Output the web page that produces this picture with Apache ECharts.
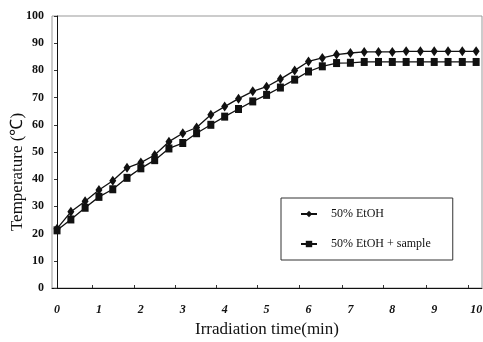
<!DOCTYPE html>
<html>
<head>
<meta charset="utf-8">
<script src="https://cdn.jsdelivr.net/npm/echarts@6/dist/echarts.min.js"></script>
<style>
  html, body { margin: 0; padding: 0; background: #fff; }
  #chart { width: 483px; height: 342px; }
</style>
</head>
<body>
<div id="chart"></div>
<script>
// irradiation time, one reading every 20 s
const timeMin = [
  0, 0.33, 0.67, 1, 1.33, 1.67, 2, 2.33, 2.67, 3, 3.33, 3.67, 4, 4.33, 4.67, 5,
  5.33, 5.67, 6, 6.33, 6.67, 7, 7.33, 7.67, 8, 8.33, 8.67, 9, 9.33, 9.67, 10,
];
const ethanol = [
  21.8, 28.0, 31.9, 36.0, 39.4, 44.2, 46.1, 48.9, 53.8, 56.9, 59.0, 63.7, 66.7, 69.6, 72.3, 74.0,
  76.8, 80.0, 83.3, 84.6, 85.8, 86.4, 86.8, 86.8, 86.8, 87.0, 87.0, 87.0, 87.0, 87.0, 87.0,
];
const ethanolSample = [
  21.2, 25.2, 29.5, 33.5, 36.3, 40.5, 44.0, 47.0, 51.3, 53.3, 56.9, 60.0, 63.0, 65.8, 68.6, 71.0,
  73.7, 76.6, 79.6, 81.5, 82.7, 82.8, 83.1, 83.1, 83.1, 83.1, 83.1, 83.1, 83.1, 83.1, 83.1,
];
const xLabels = [0, 1, 2, 3, 4, 5, 6, 7, 8, 9, 10];
const xTicks = [0.84, 1.84, 2.82, 3.79, 4.77, 5.78, 6.8, 7.78, 8.81, 9.81];
const seriesNames = ["50% EtOH", "50% EtOH + sample"];

const serif = "Liberation Serif";
const chart = echarts.init(document.getElementById("chart"), null, { renderer: "canvas" });

chart.setOption({
  animation: false,
  backgroundColor: "#fff",
  grid: {
    left: 52, right: 1, top: 16, bottom: 54,
    outerBoundsMode: "none",
    show: true, borderColor: "#999", borderWidth: 1,
  },
  legend: {
    left: 281,
    top: 198,
    orient: "vertical",
    data: seriesNames,
    borderColor: "#333",
    borderWidth: 1,
    borderRadius: 0,
    padding: [10, 22, 10, 19],
    itemGap: 18,
    itemWidth: 16,
    itemHeight: 8,
    textStyle: { fontFamily: serif, fontSize: 12, color: "#111", padding: [0, 0, 0, 9] },
  },
  xAxis: {
    type: "value",
    min: -0.12,
    max: 10.14,
    name: "Irradiation time(min)",
    nameLocation: "middle",
    nameGap: 31,
    nameTextStyle: { fontFamily: serif, fontSize: 17, color: "#111" },
    axisLine: { lineStyle: { color: "#111", width: 1 } },
    axisTick: { inside: true, length: 3, customValues: xTicks, lineStyle: { color: "#333" } },
    axisLabel: {
      customValues: xLabels,
      margin: 16,
      fontFamily: serif,
      fontSize: 12,
      fontWeight: "bold",
      fontStyle: "italic",
      color: "#111",
    },
    splitLine: { show: false },
  },
  yAxis: {
    type: "value",
    min: 0,
    max: 100,
    interval: 10,
    name: "Temperature (℃)",
    nameLocation: "middle",
    nameGap: 26,
    nameMoveOverlap: false,
    nameTextStyle: { fontFamily: serif, fontSize: 17, color: "#111", padding: [0, 40, 0, 0] },
    axisLine: { show: true, lineStyle: { color: "#111", width: 1 } },
    axisTick: { show: true, length: 3, lineStyle: { color: "#333" } },
    axisLabel: { margin: 8, fontFamily: serif, fontSize: 12, fontWeight: "bold", color: "#111" },
    splitLine: { show: false },
  },
  series: [
    {
      name: seriesNames[0],
      type: "line",
      data: timeMin.map((t, i) => [t, ethanol[i]]),
      symbol: "diamond",
      symbolSize: [7, 10],
      showAllSymbol: true,
      lineStyle: { color: "#111", width: 1.3 },
      itemStyle: { color: "#111", borderWidth: 0 },
    },
    {
      name: seriesNames[1],
      type: "line",
      data: timeMin.map((t, i) => [t, ethanolSample[i]]),
      symbol: "rect",
      symbolSize: [7, 8],
      showAllSymbol: true,
      lineStyle: { color: "#111", width: 1.3 },
      itemStyle: { color: "#111", borderWidth: 0 },
    },
  ],
});
</script>
</body>
</html>
